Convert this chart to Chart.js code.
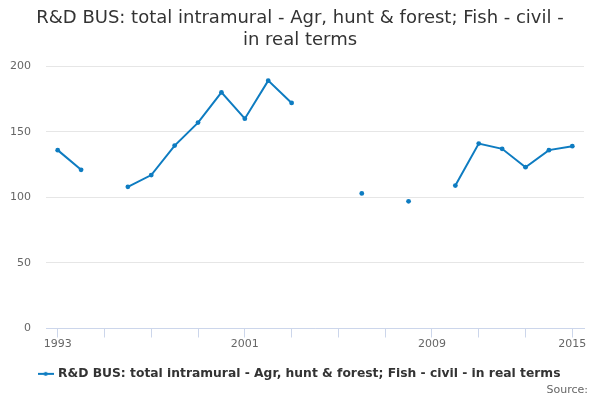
<!DOCTYPE html>
<html>
<head>
<meta charset="utf-8">
<script src="https://cdn.jsdelivr.net/npm/chart.js@4.4.1/dist/chart.umd.min.js"></script>
<style>
  html, body { margin: 0; padding: 0; background: #fff; }
</style>
</head>
<body>
<canvas id="chart" width="600" height="400"></canvas>
<script>
const years = [1993, 1994, 1995, 1996, 1997, 1998, 1999, 2000, 2001, 2002, 2003, 2004,
  2005, 2006, 2007, 2008, 2009, 2010, 2011, 2012, 2013, 2014, 2015];
const values = [136, 121, null, 108, 117, 139.5, 157, 180, 160, 189, 172, null,
  null, 103, null, 97, null, 109, 141, 137, 123, 136, 139];
const tickYears = [1993, 1995, 1997, 1999, 2001, 2003, 2005, 2007, 2009, 2011, 2013, 2015];
const tickLabels = [1993, 2001, 2009, 2015];
const seriesName = "R&D BUS: total intramural - Agr, hunt & forest; Fish - civil - in real terms";

const blue = "#0e7cc1";

// legend symbol: short line with a dot in the middle
const sym = document.createElement("canvas");
sym.width = 16;
sym.height = 8;
const sctx = sym.getContext("2d");
sctx.strokeStyle = blue;
sctx.lineWidth = 2;
sctx.beginPath();
sctx.moveTo(0, 4);
sctx.lineTo(16, 4);
sctx.stroke();
sctx.fillStyle = blue;
sctx.beginPath();
sctx.arc(8, 4, 2, 0, Math.PI * 2);
sctx.fill();

// "Source:" credit in the bottom right corner
const sourceText = {
  id: "sourceText",
  afterLayout(chart) {
    // let the y labels use the space left of the axis box (avoids clipping)
    chart.scales.y.left = 0;
  },
  afterDraw(chart) {
    const c = chart.ctx;
    c.save();
    c.font = "11px 'DejaVu Sans'";
    c.fillStyle = "#666";
    c.textAlign = "right";
    c.textBaseline = "middle";
    c.fillText("Source:", 588, 390);
    c.restore();
  }
};

new Chart(document.getElementById("chart"), {
  type: "line",
  data: {
    datasets: [{
      label: seriesName,
      data: years.map((y, i) => ({ x: y, y: values[i] })),
      borderColor: blue,
      backgroundColor: blue,
      borderWidth: 2,
      pointRadius: 2.4,
      pointBorderWidth: 0,
      pointHoverRadius: 3,
      spanGaps: false,
      tension: 0
    }]
  },
  options: {
    responsive: false,
    animation: false,
    devicePixelRatio: 1,
    layout: { padding: { left: 16, right: 16, top: 4, bottom: 10 } },
    scales: {
      x: {
        type: "linear",
        min: 1992.5,
        max: 2015.5,
        afterBuildTicks: (scale) => {
          scale.ticks = tickYears.map(v => ({ value: v }));
        },
        border: { color: "#ccd6eb" },
        grid: {
          drawOnChartArea: false,
          drawTicks: true,
          tickLength: 9,
          color: "#ccd6eb"
        },
        ticks: {
          autoSkip: false,
          maxRotation: 0,
          padding: 0,
          color: "#666",
          font: { family: "DejaVu Sans", size: 11 },
          callback: (v) => tickLabels.includes(v) ? String(v) : ""
        }
      },
      y: {
        min: 0,
        max: 200,
        afterFit: (scale) => { scale.width = 30; },
        border: { display: false },
        grid: { color: "#e6e6e6", drawTicks: false },
        ticks: {
          stepSize: 50,
          padding: 15,
          color: "#666",
          font: { family: "DejaVu Sans", size: 11 }
        }
      }
    },
    plugins: {
      title: {
        display: true,
        text: ["R&D BUS: total intramural - Agr, hunt & forest; Fish - civil -", "in real terms"],
        color: "#333",
        font: { family: "DejaVu Sans", size: 18, weight: "normal" },
        lineHeight: 1.25,
        padding: { top: 4, bottom: 15 }
      },
      legend: {
        position: "bottom",
        labels: {
          usePointStyle: true,
          pointStyle: sym,
          color: "#333",
          font: { family: "DejaVu Sans", size: 12.3, weight: "bold" },
          padding: 17
        }
      },
      tooltip: { enabled: false }
    }
  },
  plugins: [sourceText]
});
</script>
</body>
</html>
